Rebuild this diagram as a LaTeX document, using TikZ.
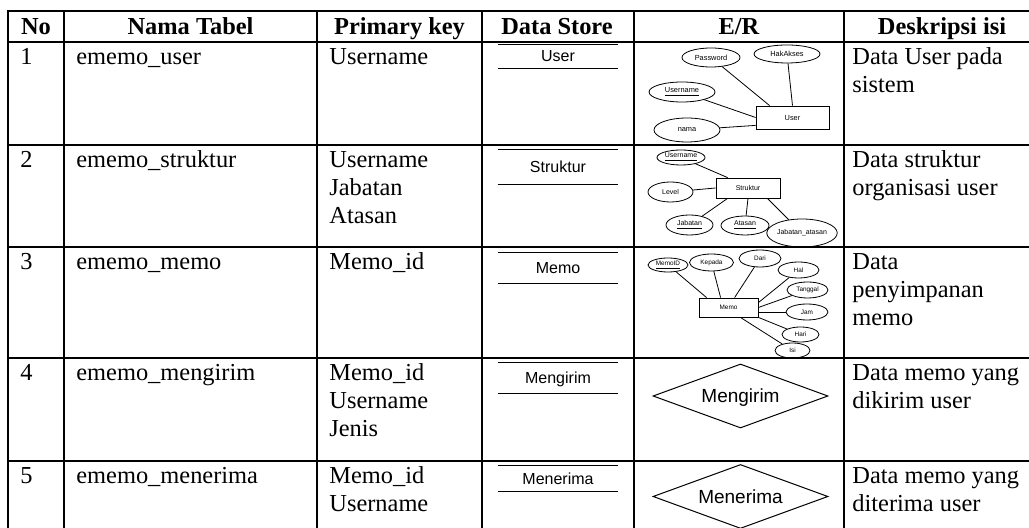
\documentclass[tikz,border=0pt]{standalone}
\usepackage{fontspec}
\setmainfont{Liberation Serif}
\newfontfamily\arialf{Liberation Sans}
\usetikzlibrary{shapes.geometric}
\begin{document}
\begin{tikzpicture}[x=0.5pt,y=-0.5pt,
  grid/.style={line width=1.3pt},
  hdr/.style={anchor=base,inner sep=0,font=\fontsize{12.2}{14}\selectfont\bfseries},
  cell/.style={anchor=north west,inner sep=0,align=left,font=\fontsize{12.2}{14}\selectfont},
  dstore/.style={inner sep=0,minimum width=60pt,font=\arialf\fontsize{8}{9}\selectfont,text depth=0pt},
  dsline/.style={line width=0.5pt},
  attr/.style={ellipse,draw,line width=0.4pt,inner sep=0},
  ent/.style={rectangle,draw,line width=0.4pt,inner sep=0},
  rel/.style={diamond,draw,line width=0.5pt,inner sep=0,aspect=2.7,minimum width=87.5pt,minimum height=32pt,text depth=0pt,font=\arialf\fontsize{9.5}{10}\selectfont},
  conn/.style={line width=0.4pt},
  fa/.style={font=\arialf\fontsize{3.7}{4}\selectfont},
  fb/.style={font=\arialf\fontsize{3.5}{4}\selectfont},
  fc/.style={font=\arialf\fontsize{3.2}{4}\selectfont},
]
\useasboundingbox (0,0) rectangle (1029,528);

% table grid
\draw[grid] (1029,11) -- (8,11) -- (8,528);
\foreach \y in {42,145,247,358,461} \draw[grid] (8,\y) -- (1029,\y);
\foreach \x in {64,317,482,634,844} \draw[grid] (\x,11) -- (\x,528);

% headers
\node[hdr] (h1) at (36,35) {No};
\node[hdr] (h2) at (190.5,35) {Nama Tabel};
\node[hdr] (h3) at (399.5,35) {Primary key};
\node[hdr] (h4) at (557,35) {Data Store};
\node[hdr] (h5) at (739,35) {E/R};
\node[hdr] (h6) at (942,35) {Deskripsi isi};

% row 1
\node[cell] (n1) at (20,44.4) {\strut 1};
\node[cell] (t1) at (76,44.4) {\strut ememo\_user};
\node[cell] (k1) at (329,44.4) {\strut Username};
\node[cell] (d1) at (852,44.4) {\strut Data User pada\\sistem};
% row 2
\node[cell] (n2) at (20,147.4) {\strut 2};
\node[cell] (t2) at (76,147.4) {\strut ememo\_struktur};
\node[cell] (k2) at (329,147.4) {\strut Username\\Jabatan\\Atasan};
\node[cell] (d2) at (852,147.4) {\strut Data struktur\\organisasi user};
% row 3
\node[cell] (n3) at (20,249.4) {\strut 3};
\node[cell] (t3) at (76,249.4) {\strut ememo\_memo};
\node[cell] (k3) at (329,249.4) {\strut Memo\_id};
\node[cell] (d3) at (852,249.4) {\strut Data\\penyimpanan\\memo};
% row 4
\node[cell] (n4) at (20,360.4) {\strut 4};
\node[cell] (t4) at (76,360.4) {\strut ememo\_mengirim};
\node[cell] (k4) at (329,360.4) {\strut Memo\_id\\Username\\Jenis};
\node[cell] (d4) at (852,360.4) {\strut Data memo yang\\dikirim user};
% row 5
\node[cell] (n5) at (20,463.4) {\strut 5};
\node[cell] (t5) at (76,463.4) {\strut ememo\_menerima};
\node[cell] (k5) at (329,463.4) {\strut Memo\_id\\Username};
\node[cell] (d5) at (852,463.4) {\strut Data memo yang\\diterima user};

% data stores
\node[dstore,minimum height=11.5pt] (ds1) at (558,56.5) {User};
\node[dstore,minimum height=17pt] (ds2) at (558,167) {Struktur};
\node[dstore,minimum height=15pt] (ds3) at (558,268) {Memo};
\node[dstore,minimum height=15pt] (ds4) at (558,378) {Mengirim};
\node[dstore,minimum height=12.5pt] (ds5) at (558,478.5) {Menerima};
\foreach \d in {ds1,ds2,ds3,ds4,ds5}
  \draw[dsline] (\d.north west) -- (\d.north east) (\d.south west) -- (\d.south east);

% E/R row 1
\node[attr,fa,minimum width=29pt,minimum height=9.5pt] (pw) at (711,57.5) {Password};
\node[attr,fa,minimum width=33pt,minimum height=9pt] (hak) at (787,54) {HakAkses};
\node[attr,fa,minimum width=33pt,minimum height=10pt] (un1) at (682,92) {\underline{Username}};
\node[attr,fa,minimum width=33pt,minimum height=12pt] (nama) at (687,130) {nama};
\node[ent,fa,minimum width=36.5pt,minimum height=11.5pt] (user) at (792.5,117.5) {User};
\draw[conn] (pw) -- ([xshift=7pt]user.north west);
\draw[conn] (hak) -- (user.north);
\draw[conn] (un1) -- (user.west);
\draw[conn] (nama) -- ([yshift=2pt]user.south west);

% E/R row 2
\node[attr,fb,minimum width=24pt,minimum height=7.5pt] (un2) at (681,157.5) {\underline{Username}};
\node[attr,fb,minimum width=22.5pt,minimum height=10pt] (lvl) at (670.5,192) {Level};
\node[ent,fb,minimum width=32pt,minimum height=10pt] (strk) at (748,188) {Struktur};
\node[attr,fb,minimum width=23.5pt,minimum height=10pt] (jab) at (689.5,225) {\underline{Jabatan}};
\node[attr,fb,minimum width=24pt,minimum height=9.5pt] (ats) at (745,225.5) {\underline{Atasan}};
\node[attr,fb,minimum width=28pt,minimum height=14pt] (jabats) at (802,233) {Jabatan\_atasan};
\draw[conn] (un2) -- ([xshift=6pt]strk.north west);
\draw[conn] (lvl) -- (strk.west);
\draw[conn] (jab) -- ([xshift=6pt]strk.south west);
\draw[conn] (ats) -- (strk.south);
\draw[conn] (jabats) -- ([xshift=-6.5pt]strk.south east);

% E/R row 3
\node[attr,fc,minimum width=20pt,minimum height=7pt] (mid) at (668,265) {\underline{MemoID}};
\node[attr,fc,minimum width=22pt,minimum height=8.5pt] (kep) at (711.5,262.5) {Kepada};
\node[attr,fc,minimum width=21pt,minimum height=8.5pt] (dari) at (760,258.5) {Dari};
\node[attr,fc,minimum width=20.5pt,minimum height=8pt] (hal) at (798.5,270) {Hal};
\node[attr,fc,minimum width=20.5pt,minimum height=8pt] (tgl) at (807.5,290) {Tanggal};
\node[attr,fc,minimum width=21pt,minimum height=8pt] (jam) at (807,312) {Jam};
\node[attr,fc,minimum width=18.5pt,minimum height=7.5pt] (hari) at (800.5,334.5) {Hari};
\node[attr,fc,minimum width=17.5pt,minimum height=7.5pt] (isi) at (792.5,350.5) {Isi};
\node[ent,fc,minimum width=29.5pt,minimum height=9.5pt] (memo) at (728.5,307.5) {Memo};
\draw[conn] (mid) -- ([xshift=4pt]memo.north west);
\draw[conn] (kep) -- ([xshift=11pt]memo.north west);
\draw[conn] (dari) -- ([xshift=18pt]memo.north west);
\draw[conn] (hal) -- ([yshift=-2.5pt]memo.north east);
\draw[conn] (tgl) -- (memo.east);
\draw[conn] (jam) -- ([yshift=-2.25pt]memo.east);
\draw[conn] (hari) -- (memo.south east);
\draw[conn] (isi) -- ([xshift=-9pt]memo.south east);

% relationships
\node[rel] (mg) at (740.5,396) {Mengirim};
\node[rel] (mn) at (740.5,496.5) {Menerima};
\end{tikzpicture}
\end{document}
